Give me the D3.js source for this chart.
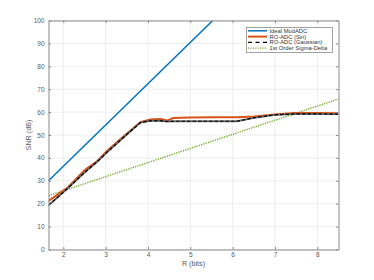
<!DOCTYPE html>
<html><head><meta charset="utf-8">
<script src="https://cdn.jsdelivr.net/npm/d3@7"></script>
<style>html,body{margin:0;padding:0;background:#fff;}svg{display:block;font-family:"Liberation Sans",Arial,Helvetica,sans-serif;}</style>
</head><body>
<svg id="c" width="374" height="280"></svg>
<script>
const seriesNames = ["Ideal ModADC", "RO-ADC (Sin)", "RO-ADC (Gaussian)", "1st Order Sigma-Delta"];
const xTicks = [2, 3, 4, 5, 6, 7, 8];
const yTicks = [0, 10, 20, 30, 40, 50, 60, 70, 80, 90, 100];
const idealR = [1.65, 5.53];
const idealSNR = [30, 100];
const simR = [1.65, 2.1, 2.5, 2.8, 3.03, 3.4, 3.82, 4.05, 4.3, 4.45, 4.6, 5.0, 5.5, 6.1, 6.5, 7.0, 7.45, 8.0, 8.5];
const sinSNR = [21.2, 27.0, 34.6, 38.6, 43.0, 49.0, 55.6, 56.8, 57.0, 56.3, 57.4, 57.6, 57.7, 57.7, 58.1, 58.9, 59.6, 59.6, 59.5];
const gaussSNR = [19.3, 26.6, 33.6, 38.3, 42.4, 48.6, 55.4, 56.2, 56.2, 55.9, 56.0, 56.0, 56.0, 56.0, 57.5, 58.8, 59.2, 59.2, 59.1];
const sdR = [1.65, 8.5];
const sdSNR = [23.5, 65.7];

const svg = d3.select("#c");
const L = 48.5, R = 338.5, T = 20.5, B = 249.5;
const x = d3.scaleLinear().domain([1.65, 8.5]).range([L, R]);
const y = d3.scaleLinear().domain([0, 100]).range([B, T]);
const axisCol = "#8a8a8a", textCol = "#5a5a5a", fs = 6.5;

// grid
const g = svg.append("g");
xTicks.forEach(t => g.append("line").attr("x1", x(t)).attr("x2", x(t)).attr("y1", T).attr("y2", B).attr("stroke", "#e8e8e8").attr("stroke-width", 0.8));
yTicks.forEach(t => g.append("line").attr("x1", L).attr("x2", R).attr("y1", y(t)).attr("y2", y(t)).attr("stroke", "#e8e8e8").attr("stroke-width", 0.8));

svg.append("clipPath").attr("id", "clip").append("rect").attr("x", L).attr("y", T).attr("width", R - L).attr("height", B - T);
const plot = svg.append("g").attr("clip-path", "url(#clip)");
const line = d3.line().x(d => x(d[0])).y(d => y(d[1]));
const zip = (a, b) => a.map((v, i) => [v, b[i]]);

plot.append("path").datum(zip(sdR, sdSNR)).attr("d", line).attr("fill", "none").attr("stroke", "#77AC30").attr("stroke-width", 1.4).attr("stroke-dasharray", "1.3,1.1");
plot.append("path").datum(zip(idealR, idealSNR)).attr("d", line).attr("fill", "none").attr("stroke", "#0072BD").attr("stroke-width", 1.5);
plot.append("path").datum(zip(simR, sinSNR)).attr("d", line).attr("fill", "none").attr("stroke", "#D95319").attr("stroke-width", 2);
plot.append("path").datum(zip(simR, gaussSNR)).attr("d", line).attr("fill", "none").attr("stroke", "#6a6a6a").attr("stroke-width", 1.9);
plot.append("path").datum(zip(simR, gaussSNR)).attr("d", line).attr("fill", "none").attr("stroke", "#000").attr("stroke-width", 1.2).attr("stroke-dasharray", "3.5,2");

// axes (inward ticks)
const fmt = d3.format("d");
const ax = (gen, tr) => {
  const a = svg.append("g").attr("transform", tr).call(gen);
  a.selectAll("path.domain").attr("stroke", axisCol);
  a.selectAll(".tick line").attr("stroke", axisCol);
  a.selectAll("text").attr("fill", textCol).style("font-size", fs + "px").style("font-family", "Liberation Sans, Arial, sans-serif");
  return a;
};
ax(d3.axisBottom(x).tickValues(xTicks).tickFormat(fmt).tickSizeInner(-2.5).tickSizeOuter(0).tickPadding(3), `translate(0,${B})`);
ax(d3.axisTop(x).tickValues(xTicks).tickFormat("").tickSizeInner(-2.5).tickSizeOuter(0), `translate(0,${T})`);
ax(d3.axisLeft(y).tickValues(yTicks).tickFormat(fmt).tickSizeInner(-2.5).tickSizeOuter(0).tickPadding(4), `translate(${L},0)`);
ax(d3.axisRight(y).tickValues(yTicks).tickFormat("").tickSizeInner(-2.5).tickSizeOuter(0), `translate(${R},0)`);

svg.append("text").attr("x", (L + R) / 2).attr("y", 266).attr("text-anchor", "middle").attr("fill", textCol).style("font-size", "7.2px").text("R (bits)");
svg.append("text").attr("transform", `translate(31,${(T + B) / 2}) rotate(-90)`).attr("text-anchor", "middle").attr("fill", textCol).style("font-size", "7.2px").text("SNR (dB)");

// legend
const lg = svg.append("g");
lg.append("rect").attr("x", 246.5).attr("y", 27.5).attr("width", 86).attr("height", 25).attr("fill", "#fff").attr("stroke", "#8a8a8a").attr("stroke-width", 0.8);
const rows = [30.8, 36.6, 42.4, 48.2];
const styles = [
  {c: "#0072BD", w: 1.5, d: null},
  {c: "#D95319", w: 2, d: null},
  {c: "#000", w: 1.3, d: "4,3.5"},
  {c: "#77AC30", w: 1.3, d: "1.2,1.2"}
];
seriesNames.forEach((n, i) => {
  const s = styles[i];
  const ln = lg.append("line").attr("x1", 248).attr("x2", 267).attr("y1", rows[i]).attr("y2", rows[i]).attr("stroke", s.c).attr("stroke-width", s.w);
  if (s.d) ln.attr("stroke-dasharray", s.d);
  lg.append("text").attr("x", 269.5).attr("y", rows[i]).attr("dy", "0.35em").attr("fill", "#333").style("font-size", "5.8px").text(n);
});
</script>
</body></html>
